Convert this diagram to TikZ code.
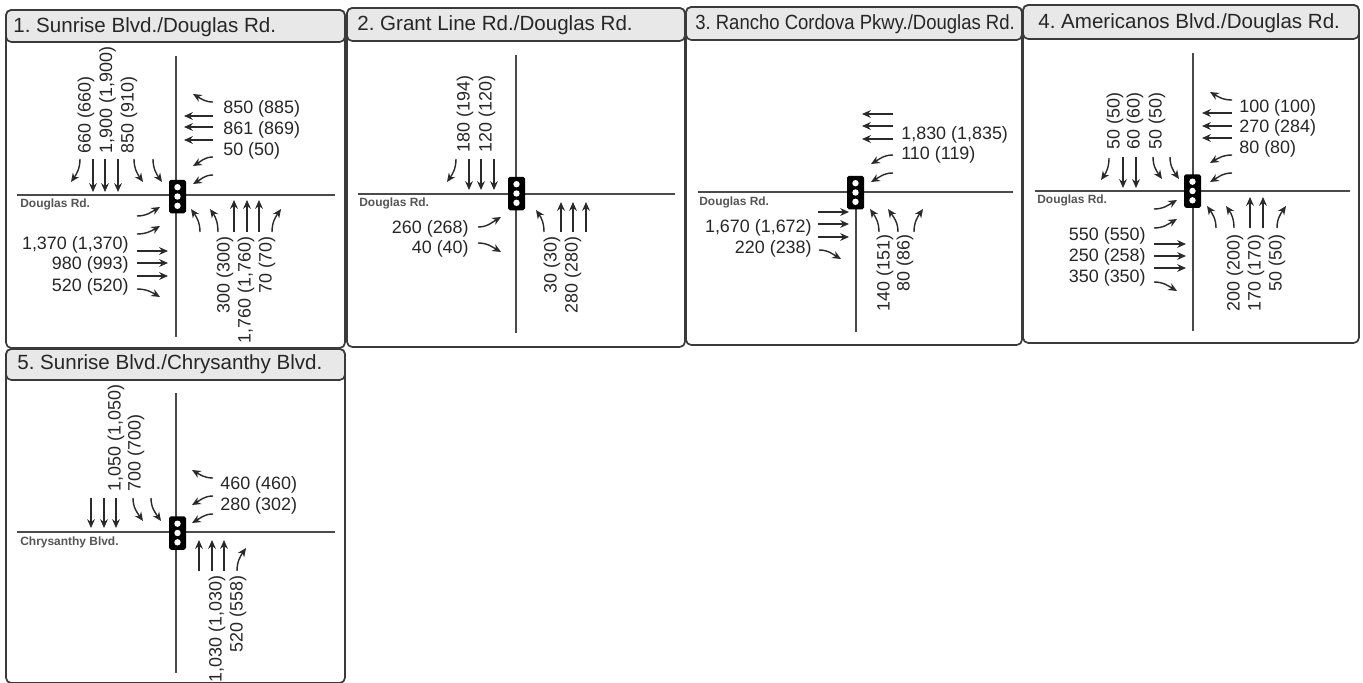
\documentclass[tikz,border=0pt]{standalone}
\usepackage{fontspec}
\setmainfont{Liberation Sans}
\usetikzlibrary{arrows.meta}
\definecolor{PanelLine}{HTML}{3A3A3A}
\definecolor{TitleFill}{HTML}{E8E8E8}
\definecolor{RoadLine}{HTML}{4A4A4A}
\definecolor{NameText}{HTML}{555555}
\definecolor{FlowLine}{HTML}{2A2A2A}
\definecolor{InkText}{HTML}{262626}
\newcommand{\moves}[1]{\foreach \xa/\ya/\xb/\yb/\turn in {#1} \draw[flow] (\xa,\ya) to[\turn] (\xb,\yb);}
\newcommand{\signal}[3]{\node[lamp] (#1) at (#2,#3) {};
    \foreach \dy in {-9.3,0,9.3} \fill[white] (#2,#3+\dy) circle (3.2);}
\newcommand{\panelbox}[5]{\draw[panel] (#1,#2) rectangle (#3,#4);
    \draw[panel,fill=TitleFill] (#1,#2) rectangle (#3,#5);}
\begin{document}
\frenchspacing
\begin{tikzpicture}[x=0.02cm,y=-0.02cm]
    \tikzset{panel/.style={rounded corners=3pt,draw=PanelLine,line width=0.95pt},
      title/.style={anchor=west,inner sep=0pt,text=InkText,font=\fontsize{11.7}{13}\selectfont},
      road/.style={draw=RoadLine,line width=1pt},
      streetname/.style={anchor=west,inner sep=0pt,text=NameText,font=\fontsize{6.8}{8}\selectfont\bfseries},
      lamp/.style={fill=black,rounded corners=1pt,minimum width=0.34cm,minimum height=0.67cm,inner sep=0pt},
      flow/.style={draw=FlowLine,line width=0.8pt,-{Stealth[length=5pt,width=4.4pt]}},
      vol/.style={inner sep=0pt,text=InkText,font=\fontsize{10.2}{12}\selectfont},
      volr/.style={vol,anchor=east,yshift=-0.03cm},
      voll/.style={vol,anchor=west,yshift=-0.03cm},
      volup/.style={vol,rotate=90,anchor=west,xshift=0.03cm},
      voldn/.style={vol,rotate=90,anchor=east,xshift=0.03cm},
      thru/.style={},
      sbl/.style={out=-90,in=55},sbr/.style={out=-90,in=125},
      wbu/.style={out=180,in=-30},wbd/.style={out=180,in=30},
      nbl/.style={out=90,in=-55},nbr/.style={out=90,in=-125},
      ebu/.style={out=0,in=-150},ebd/.style={out=0,in=150}}
    \useasboundingbox (0,0) rectangle (1363,683);
    \fill[white] (0,0) rectangle (1363,683);

    \panelbox{6}{10}{345}{348}{42}
    \node[title] (ttlA) at (13,27) {1. Sunrise Blvd./Douglas Rd.};
    \draw[road] (176,56) -- (176,337);
    \draw[road] (17,195) -- (335,195);
    \signal{sigA}{177.5}{196.5}
    \node[streetname] (strA) at (20,204) {Douglas Rd.};
    \moves{80/159/71/182/sbl,93/159/93/192/thru,105/159/105/192/thru,118/159/118/192/thru,134/159/143/182/sbr,153/159/162/182/sbr,
      213/102/193/94/wbu,213/116/184/116/thru,213/127/184/127/thru,213/140/184/140/thru,213/157/193/166/wbd,213/175/193/184/wbd,
      200/232/191/209/nbl,218/232/210/209/nbl,234/232/234/200/thru,247/232/247/200/thru,259/232/259/200/thru,272/232/281/209/nbr,
      137/216/160/207/ebu,137/234/160/226/ebu,137/251/168/251/thru,137/263/168/263/thru,137/276/168/276/thru,137/289/160/297/ebd}
    \node[volup] (a1) at (86,155) {660 (660)};
    \node[volup] (a2) at (107.5,155) {1,900 (1,900)};
    \node[volup] (a3) at (129,155) {850 (910)};
    \node[voll] (a4) at (223,107) {850 (885)};
    \node[voll] (a5) at (223,128) {861 (869)};
    \node[voll] (a6) at (223,149) {50 (50)};
    \node[voldn] (a7) at (225,238) {300 (300)};
    \node[voldn] (a8) at (246,238) {1,760 (1,760)};
    \node[voldn] (a9) at (267,238) {70 (70)};
    \node[volr] (a10) at (129,243) {1,370 (1,370)};
    \node[volr] (a11) at (129,263) {980 (993)};
    \node[volr] (a12) at (129,285) {520 (520)};

    \panelbox{347}{8}{685}{347}{41}
    \node[title] (ttlB) at (357,25) {2. Grant Line Rd./Douglas Rd.};
    \draw[road] (516,55) -- (516,333);
    \draw[road] (358,194) -- (675,194);
    \signal{sigB}{516.5}{193.5}
    \node[streetname] (strB) at (359,203) {Douglas Rd.};
    \moves{456/159/447/182/sbl,469/159/469/190/thru,481/159/481/190/thru,494/159/494/190/thru,
      544/232/536/210/nbl,561/232/561/202/thru,573/232/573/202/thru,586/232/586/202/thru,
      478/227/501/217/ebu,478/243/501/252/ebd}
    \node[volup] (b1) at (465,154) {180 (194)};
    \node[volup] (b2) at (487,154) {120 (120)};
    \node[voldn] (b3) at (552,238) {30 (30)};
    \node[voldn] (b4) at (573,238) {280 (280)};
    \node[volr] (b5) at (469,227) {260 (268)};
    \node[volr] (b6) at (469,247) {40 (40)};

    \panelbox{686}{7}{1022}{345}{40}
    \node[title,xscale=0.9,transform shape] (ttlC) at (695,24) {3. Rancho Cordova Pkwy./Douglas Rd.};
    \draw[road] (856,192) -- (856,332);
    \draw[road] (698,192) -- (1013,192);
    \signal{sigC}{855.5}{192.5}
    \node[streetname] (strC) at (699,202) {Douglas Rd.};
    \moves{893/114/862/114/thru,893/126/862/126/thru,893/139/862/139/thru,893/155/871/164/wbd,893/173/871/182/wbd,
      879/232/870/209/nbl,898/232/888/209/nbl,914/232/923/209/nbr,
      818/212/849/212/thru,818/224/849/224/thru,818/237/849/237/thru,819/250/841/259/ebd}
    \node[voll] (c1) at (901,133) {1,830 (1,835)};
    \node[voll] (c2) at (901,153) {110 (119)};
    \node[voldn] (c3) at (885,236) {140 (151)};
    \node[voldn] (c4) at (905,236) {80 (86)};
    \node[volr] (c5) at (812,226) {1,670 (1,672)};
    \node[volr] (c6) at (812,247) {220 (238)};

    \panelbox{1023}{5}{1359}{343}{39}
    \node[title] (ttlD) at (1038,23) {4. Americanos Blvd./Douglas Rd.};
    \draw[road] (1193,53) -- (1193,331);
    \draw[road] (1035,191) -- (1350,191);
    \signal{sigD}{1192.5}{191}
    \node[streetname] (strD) at (1037,200) {Douglas Rd.};
    \moves{1109/158/1101/180/sbl,1123/157/1123/188/thru,1136/157/1136/188/thru,1153/157/1162/179/sbr,1170/157/1179/179/sbr,
      1232/100/1210/92/wbu,1232/113/1202/113/thru,1232/126/1202/126/thru,1232/138/1202/138/thru,1232/155/1210/163/wbd,1232/173/1210/182/wbd,
      1216/228/1207/206/nbl,1234/228/1226/206/nbl,1250/228/1250/197/thru,1263/228/1263/197/thru,1277/228/1286/206/nbr,
      1154/209/1177/200/ebu,1154/228/1177/219/ebu,1154/244/1186/244/thru,1154/256/1186/256/thru,1154/268/1186/268/thru,1154/282/1177/291/ebd}
    \node[volup] (d1) at (1115,151) {50 (50)};
    \node[volup] (d2) at (1135,151) {60 (60)};
    \node[volup] (d3) at (1157,151) {50 (50)};
    \node[voll] (d4) at (1239,106) {100 (100)};
    \node[voll] (d5) at (1239,126) {270 (284)};
    \node[voll] (d6) at (1239,147) {80 (80)};
    \node[voldn] (d7) at (1235,236) {200 (200)};
    \node[voldn] (d8) at (1256,236) {170 (170)};
    \node[voldn] (d9) at (1277,236) {50 (50)};
    \node[volr] (d10) at (1146,234) {550 (550)};
    \node[volr] (d11) at (1146,255) {250 (258)};
    \node[volr] (d12) at (1146,276) {350 (350)};

    \panelbox{6}{349}{345}{683}{380}
    \node[title] (ttlE) at (17,364) {5. Sunrise Blvd./Chrysanthy Blvd.};
    \draw[road] (176,393) -- (176,673);
    \draw[road] (17,532) -- (335,532);
    \signal{sigE}{177.5}{533}
    \node[streetname] (strE) at (20,542) {Chrysanthy Blvd.};
    \moves{91/498/91/528/thru,104/498/104/528/thru,116/498/116/528/thru,133/498/143/521/sbr,151/498/161/521/sbr,
      213/478/192/470/wbu,213/496/192/505/wbd,213/514/192/523/wbd,
      199/571/199/540/thru,212/571/212/540/thru,224/571/224/540/thru,237/571/246/548/nbr}
    \node[volup] (e1) at (116,493) {1,050 (1,050)};
    \node[volup] (e2) at (136,493) {700 (700)};
    \node[voll] (e3) at (220,483) {460 (460)};
    \node[voll] (e4) at (220,504) {280 (302)};
    \node[voldn] (e5) at (217,577) {1,030 (1,030)};
    \node[voldn] (e6) at (238,577) {520 (558)};
  \end{tikzpicture}
\end{document}
